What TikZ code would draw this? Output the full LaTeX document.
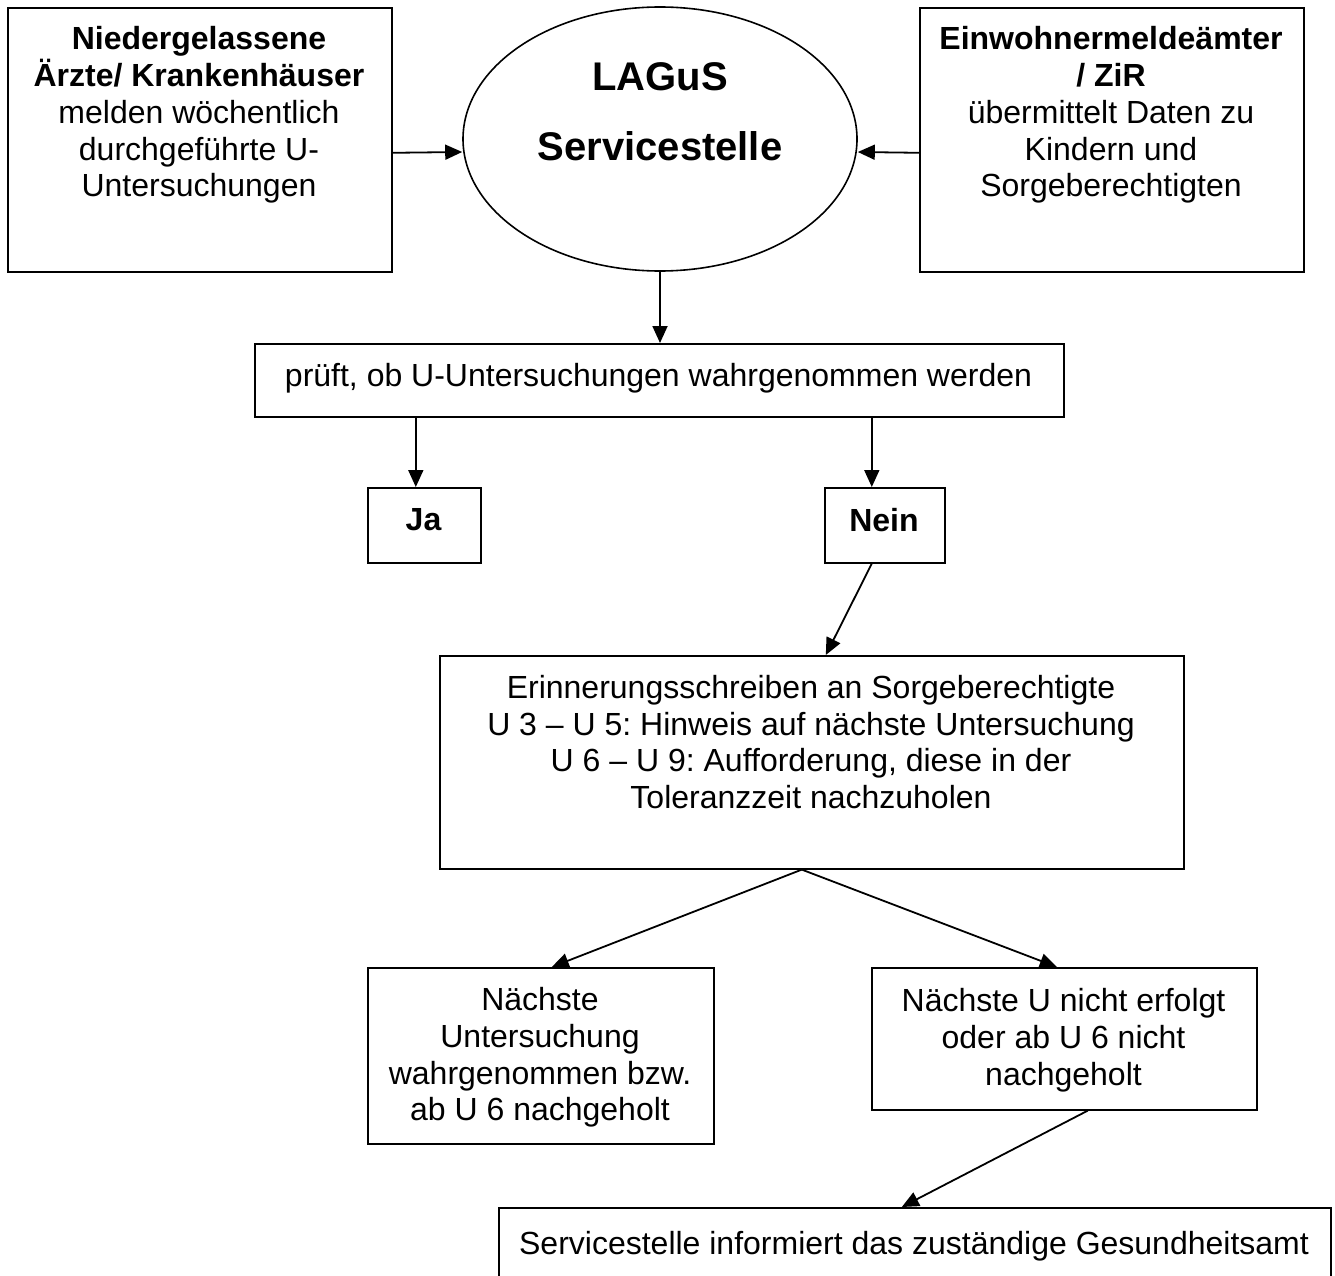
\documentclass[tikz,border=0pt]{standalone}
\usepackage{fontspec}
\setmainfont{Liberation Sans}
\usetikzlibrary{arrows.meta,shapes.geometric}
\frenchspacing

\begin{document}
\begin{tikzpicture}[x=1pt,y=-1pt]

\tikzset{BoxStyle/.style = {draw, line width=1.6pt, inner sep=0pt, anchor=north west}}
\tikzset{TextStyle/.style = {align=center, inner sep=0pt, font=\fontsize{32}{36.8}\selectfont}}
\tikzset{EdgeStyle/.style = {line width=1.8pt, -{Triangle[length=17pt,width=15pt]}}}

\useasboundingbox (0,0) rectangle (1335,1276);
\clip (0,0) rectangle (1335,1276);

\node[BoxStyle, minimum width=384pt, minimum height=264pt] (aerzte) at (7,7) {};
\node[BoxStyle, minimum width=384pt, minimum height=264pt] (einwohner) at (919,7) {};
\node[draw, ellipse, line width=1.6pt, inner sep=0pt, minimum width=394pt, minimum height=264pt] (lagus) at (660,139) {};
\node[BoxStyle, minimum width=809pt, minimum height=73pt] (pruefung) at (254,343) {};
\node[BoxStyle, minimum width=113pt, minimum height=75pt] (ja) at (367,487) {};
\node[BoxStyle, minimum width=120pt, minimum height=75pt] (nein) at (824,487) {};
\node[BoxStyle, minimum width=744pt, minimum height=213pt] (erinnerung) at (439,655) {};
\node[BoxStyle, minimum width=346pt, minimum height=176pt] (naechste) at (367,967) {};
\node[BoxStyle, minimum width=385pt, minimum height=142pt] (nichterfolgt) at (871,967) {};
\node[BoxStyle, minimum width=832pt, minimum height=100pt] (gesundheit) at (498,1207) {};

\node[TextStyle] (aerztetext) at (199,115) {\textbf{Niedergelassene}\\\textbf{Ärzte/ Krankenhäuser}\\melden wöchentlich\\durchgeführte U-\\Untersuchungen};
\node[TextStyle] (einwohnertext) at (1111,115) {\textbf{Einwohnermeldeämter}\\\textbf{/ ZiR}\\übermittelt Daten zu\\Kindern und\\Sorgeberechtigten};
\node[TextStyle, font=\fontsize{40}{70}\selectfont\bfseries] (lagustext) at (660,111.5) {LAGuS\\Servicestelle};
\node[TextStyle] (prueftext) at (658.5,378) {prüft, ob U-Untersuchungen wahrgenommen werden};
\node[TextStyle, font=\fontsize{32}{36.8}\selectfont\bfseries] (jatext) at (423.5,520) {Ja};
\node[TextStyle, font=\fontsize{32}{36.8}\selectfont\bfseries] (neintext) at (884,520) {Nein};
\node[TextStyle] (erinnerungtext) at (811,742) {Erinnerungsschreiben an Sorgeberechtigte\\U 3 – U 5: Hinweis auf nächste Untersuchung\\U 6 – U 9: Aufforderung, diese in der\\Toleranzzeit nachzuholen};
\node[TextStyle] (naechstetext) at (540,1057.5) {Nächste\\Untersuchung\\wahrgenommen bzw.\\ab U 6 nachgeholt};
\node[TextStyle] (nichterfolgttext) at (1063.5,1040) {Nächste U nicht erfolgt\\oder ab U 6 nicht\\nachgeholt};
\node[TextStyle] (gesundheittext) at (914,1246) {Servicestelle informiert das zuständige Gesundheitsamt};

\draw[EdgeStyle] ([yshift=-13pt]aerzte.east) -- ([yshift=-13pt]lagus.west);
\draw[EdgeStyle] ([yshift=-13pt]einwohner.west) -- ([yshift=-13pt]lagus.east);
\draw[EdgeStyle] (lagus.south) -- (lagus.south |- pruefung.north);
\draw[EdgeStyle] ([xshift=-8.5pt]ja.north |- pruefung.south) -- ([xshift=-8.5pt]ja.north);
\draw[EdgeStyle] ([xshift=-13pt]nein.north |- pruefung.south) -- ([xshift=-13pt]nein.north);
\draw[EdgeStyle] ([xshift=-13pt]nein.south) -- ([xshift=14pt]erinnerung.north);
\draw[EdgeStyle] ([xshift=-10pt]erinnerung.south) -- ([xshift=11pt]naechste.north);
\draw[EdgeStyle] ([xshift=-10pt]erinnerung.south) -- ([xshift=-7.5pt]nichterfolgt.north);
\draw[EdgeStyle] ([xshift=23.5pt]nichterfolgt.south) -- ([xshift=-13pt]gesundheit.north);

\end{tikzpicture}
\end{document}
